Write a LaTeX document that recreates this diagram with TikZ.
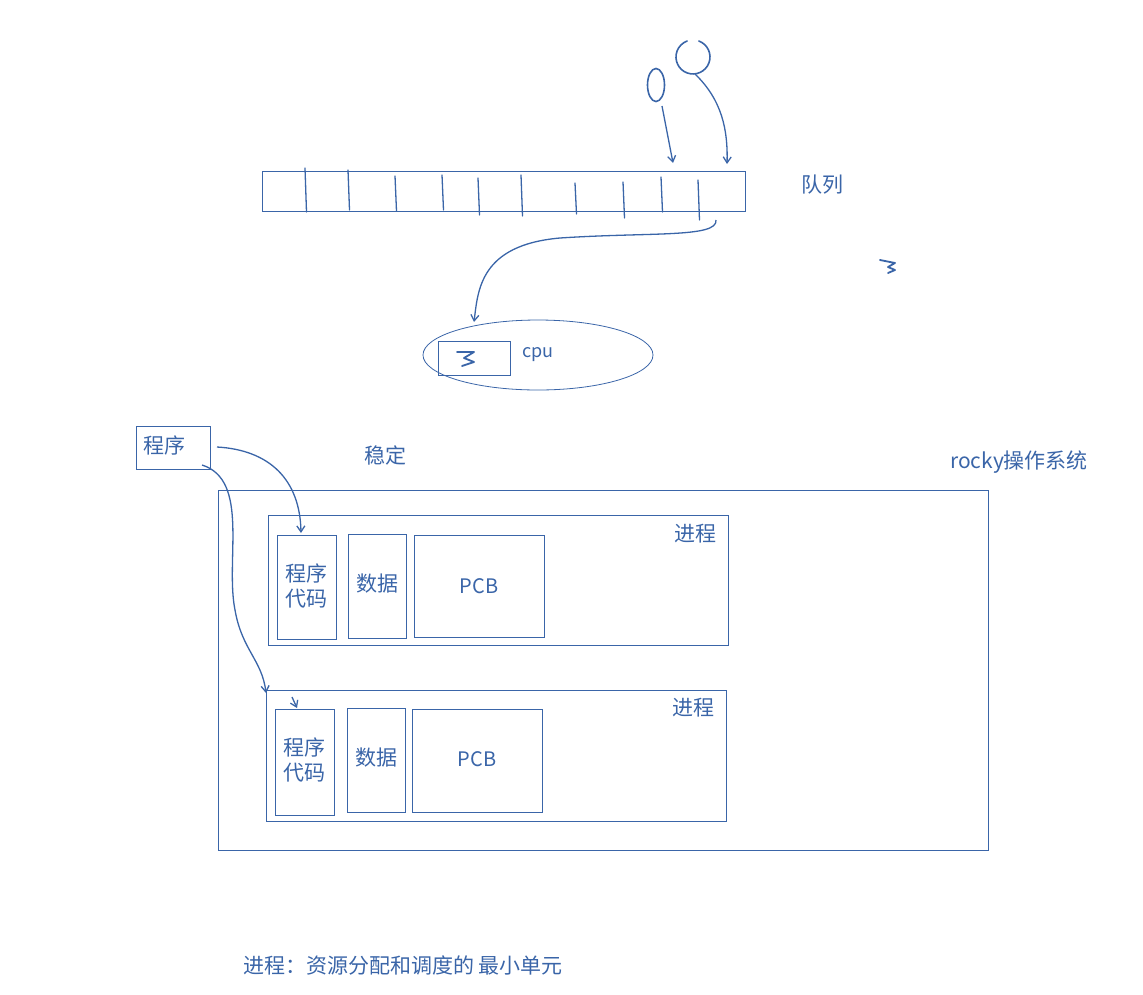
\documentclass[tikz,border=0pt]{standalone}
\usepackage{fontspec}
\setmainfont{Noto Sans CJK SC}
\usetikzlibrary{arrows.meta,shapes.geometric}
\definecolor{pen}{HTML}{3A65A8}
\begin{document}
\begin{tikzpicture}[x={(1pt,0)},y={(0,-1pt)},
  box/.style={draw=pen,line width=0.8pt},
  ink/.style={draw=pen,line width=1.6pt,line cap=round},
  arr/.style={draw=pen,line width=1.3pt,-{Straight Barb[length=6pt,width=8pt]}},
  lbl/.style={text=pen,font=\fontsize{21pt}{25pt}\selectfont,align=center,inner sep=0pt}]
\useasboundingbox (0,0) rectangle (1143,994);
% queue
\node[box,minimum width=483pt,minimum height=40pt,inner sep=0pt] (queue) at (503.5,191) {};
\foreach \x/\a/\b in {305/168/212,348/170/210,395/176/211,442/175/210,478/178/215,521/175/216,575/183/214,623/182/218,661/177/212,698/180/220}
  \draw[ink,line width=1.3pt] (\x,\a) -- (\x+1.5,\b);
\node[lbl] (qlabel) at (822,185) {队列};
% people
\node[ink,draw,ellipse,minimum width=17pt,minimum height=33pt,inner sep=0pt] (p1) at (656,85) {};
\draw[ink] (698.8,41) arc[start angle=290,end angle=610,radius=17];
\coordinate (p2) at (695,74);
\draw[arr] (662,106) -- (673,163);
\draw[arr] (p2) .. controls (722,100) and (728,130) .. (727,164);
% cpu
\node[box,draw,ellipse,minimum width=230pt,minimum height=70pt] (cpuell) at (538,355) {};
\node[box,minimum width=72pt,minimum height=34pt,inner sep=0pt] (core) at (474,358) {};
\draw[ink,line width=1.8pt,line join=round] (457,352) -- (474,352) -- (464,358) -- (474,362) -- (462,366);
\node[lbl,font=\fontsize{18pt}{20pt}\selectfont] (cpu) at (538,355) {cpu};
\coordinate (qend) at (716,220);
\draw[arr] (qend) .. controls (718,238) and (650,232) .. (560,238) .. controls (480,245) and (478,290) .. (474,322);
% question mark scribble
\draw[ink,line width=1.8pt,line join=round] (880,260) -- (895,263) -- (888,267) -- (895,270) -- (888,273);
% program
\node[box,minimum width=74pt,minimum height=43pt,inner sep=0pt] (prog) at (173,447.5) {};
\node[lbl] at (164,445) {程序};
\node[lbl] (stable) at (385,455) {稳定};
\node[lbl] (oslabel) at (1019,462) {rocky操作系统};
% OS
\node[box,minimum width=770pt,minimum height=360pt,inner sep=0pt] (os) at (603,670) {};
% process 1
\node[box,minimum width=460pt,minimum height=130pt,inner sep=0pt] (pr1) at (498,580) {};
\node[lbl] at (695,534) {进程};
\node[box,minimum width=59pt,minimum height=104pt,inner sep=0pt] (code1) at (306.5,587) {};
\node[lbl] at (306.5,586) {程序\\代码};
\node[box,minimum width=58pt,minimum height=104pt,inner sep=0pt] (data1) at (377,586) {};
\node[lbl] at (377,584) {数据};
\node[box,minimum width=130pt,minimum height=102pt,inner sep=0pt] (pcb1) at (479,586) {};
\node[lbl,font=\fontsize{20pt}{22pt}\selectfont] at (479,586) {PCB};
% process 2
\node[box,minimum width=460pt,minimum height=131pt,inner sep=0pt] (pr2) at (496,755.5) {};
\node[lbl] at (693,708) {进程};
\node[box,minimum width=59pt,minimum height=106pt,inner sep=0pt] (code2) at (304.5,762) {};
\node[lbl] at (304.5,760) {程序\\代码};
\node[box,minimum width=58pt,minimum height=104pt,inner sep=0pt] (data2) at (376,760) {};
\node[lbl] at (376,758) {数据};
\node[box,minimum width=130pt,minimum height=103pt,inner sep=0pt] (pcb2) at (477,760.5) {};
\node[lbl,font=\fontsize{20pt}{22pt}\selectfont] at (477,759) {PCB};
% arrows from program
\coordinate (pa) at (217,447);
\coordinate (pb) at (202,465);
\draw[arr] (pa) .. controls (270,450) and (300,480) .. (301,533);
\draw[arr] (pb) .. controls (250,480) and (225,560) .. (235,610) .. controls (242,650) and (262,660) .. (266,693);
\draw[arr] (292,697) -- (297,708);
% bottom
\node[lbl] (note) at (403,965) {进程：资源分配和调度的 最小单元};
\end{tikzpicture}
\end{document}
